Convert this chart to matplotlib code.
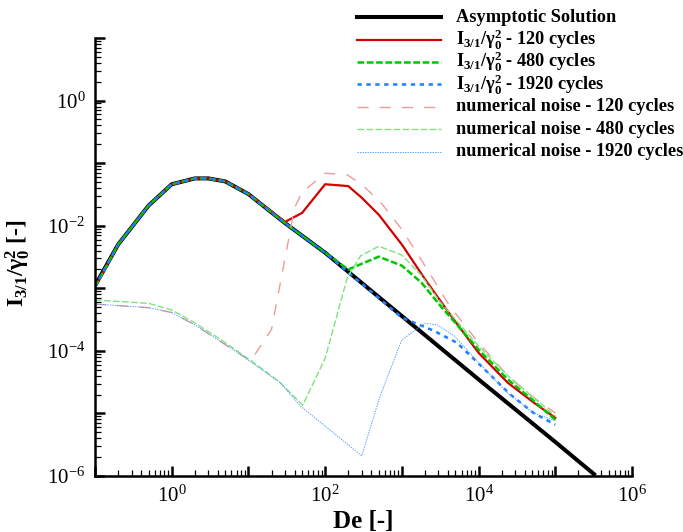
import numpy as np
import matplotlib
matplotlib.use("Agg")
import matplotlib.pyplot as plt
from matplotlib.lines import Line2D
from matplotlib.ticker import LogLocator, NullFormatter, FixedLocator

plt.rcParams['font.family'] = ['Liberation Serif', 'DejaVu Serif']
plt.rcParams['mathtext.fontset'] = 'custom'
plt.rcParams['mathtext.rm'] = 'Liberation Serif'
plt.rcParams['mathtext.it'] = 'Liberation Serif:italic'
plt.rcParams['mathtext.bf'] = 'Liberation Serif:bold'
plt.rcParams['lines.scale_dashes'] = False

# Rozwiazanie asymptotyczne
de_asym = [0.1, 0.2, 0.5, 1, 2, 3, 5, 10, 30, 100, 1e3, 1e4, 1e5, 3.2e5]
i_asym = [1.1e-3, 5e-3, 2.1e-2, 4.6e-2, 5.7e-2, 5.7e-2, 5.1e-2, 3.2e-2, 1.1e-2,
          3.7e-3, 3.6e-4, 3.5e-5, 3.5e-6, 1.07e-6]

# I_3/1 / gamma_0^2
de_120 = [0.1, 0.2, 0.5, 1, 2, 3, 5, 10, 30, 50, 100, 200, 300, 500, 1000, 2000,
          4400, 1e4, 2.4e4, 5.2e4, 1e5]
i_120 = [1.05e-3, 5e-3, 2.1e-2, 4.6e-2, 5.7e-2, 5.7e-2, 5.1e-2, 3.2e-2, 1.15e-2,
         1.6e-2, 4.6e-2, 4.3e-2, 2.8e-2, 1.5e-2, 5e-3, 1.4e-3, 3.6e-4, 9.3e-5,
         3.1e-5, 1.5e-5, 8.5e-6]

de_480 = [0.1, 0.2, 0.5, 1, 2, 3, 5, 10, 30, 100, 200, 500, 1000, 1800, 3200,
          1e4, 2.4e4, 5.2e4, 1e5]
i_480 = [1.05e-3, 5e-3, 2.1e-2, 4.6e-2, 5.7e-2, 5.7e-2, 5.1e-2, 3.2e-2, 1.1e-2,
         3.7e-3, 2e-3, 3.2e-3, 2.3e-3, 1.23e-3, 5.2e-4, 1.05e-4, 3.5e-5, 1.6e-5,
         7.9e-6]

de_1920 = [0.1, 0.2, 0.5, 1, 2, 3, 5, 10, 30, 100, 1000, 2600, 5200, 1.07e4,
           2.6e4, 5.2e4, 1e5]
i_1920 = [1.05e-3, 5e-3, 2.1e-2, 4.6e-2, 5.7e-2, 5.7e-2, 5.1e-2, 3.2e-2, 1.1e-2,
          3.7e-3, 3.4e-4, 2.1e-4, 1.35e-4, 5.8e-5, 2e-5, 1.02e-5, 6.6e-6]

# szum numeryczny
de_n120 = [0.1, 0.5, 1, 2, 4, 10.7, 20, 26, 40, 50, 100, 195, 310, 540, 1000,
           2000, 4200, 1e4, 2.4e4, 5.2e4, 1e5]
i_n120 = [5.6e-4, 4.9e-4, 4.1e-4, 2.6e-4, 1.5e-4, 6.9e-5, 2.2e-4, 1.2e-3, 1.95e-2,
          3.4e-2, 6.9e-2, 6.5e-2, 4.4e-2, 2.3e-2, 8.7e-3, 2.3e-3, 5.2e-4, 1.35e-4,
          4e-5, 1.8e-5, 1.02e-5]

de_n480 = [0.1, 0.5, 1, 2, 4.4, 11.7, 26, 51, 100, 195, 290, 500, 1000, 1800,
           3200, 1e4, 2.4e4, 5.2e4, 1e5]
i_n480 = [6.5e-4, 5.75e-4, 4.5e-4, 2.8e-4, 1.5e-4, 6.5e-5, 3.1e-5, 1.35e-5, 7.6e-5,
          1.5e-3, 3.3e-3, 4.7e-3, 3.4e-3, 1.6e-3, 5.9e-4, 1.2e-4, 4e-5, 1.8e-5,
          9.1e-6]

de_n1920 = [0.1, 0.5, 1, 2, 4, 7.3, 26, 48, 300, 520, 1000, 2000, 2900, 4800,
            1e4, 2.4e4, 5.2e4, 1e5]
i_n1920 = [5.6e-4, 4.9e-4, 4.1e-4, 2.6e-4, 1.5e-4, 9.3e-5, 3.1e-5, 1.3e-5, 2.1e-6,
           1.9e-5, 1.5e-4, 2.75e-4, 2.6e-4, 1.74e-4, 6.5e-5, 2.1e-5, 1.02e-5,
           7.6e-6]

etykieta = r'$\mathbf{I_{3/1}/\gamma_0^2}$'
serie = [
    (de_asym, i_asym, 'Asymptotic Solution', dict(color='black', lw=2.9)),
    (de_120, i_120, etykieta + ' - 120 cycles', dict(color='#d40000', lw=1.6)),
    (de_480, i_480, etykieta + ' - 480 cycles', dict(color='#00c800', lw=1.8, dashes=(4.8, 1.9))),
    (de_1920, i_1920, etykieta + ' - 1920 cycles', dict(color='#1e7cff', lw=1.8, dashes=(3.1, 3.3))),
    (de_n120, i_n120, 'numerical noise - 120 cycles', dict(color='#f09a9a', lw=1.0, dashes=(8, 8))),
    (de_n480, i_n480, 'numerical noise - 480 cycles', dict(color='#7ee27e', lw=1.0, dashes=(4.8, 1.7))),
    (de_n1920, i_n1920, 'numerical noise - 1920 cycles', dict(color='#5a9eff', lw=0.7, dashes=(1, 0.8))),
]

W, H = 683, 532
fig = plt.figure(figsize=(W / 100, H / 100), dpi=100)
ax = fig.add_axes([95 / W, 1 - 476 / H, (632 - 95) / W, (476 - 38) / H])

for de, val, label, styl in serie:
    ax.plot(de, val, **styl)

ax.set_xscale('log')
ax.set_yscale('log')
ax.set_xlim(1e-1, 1e6)
ax.set_ylim(1e-6, 1e1)

for s in ['top', 'right']:
    ax.spines[s].set_visible(False)
for s in ['left', 'bottom']:
    ax.spines[s].set_linewidth(1.8)

ax.xaxis.set_major_locator(FixedLocator([10.0**k for k in range(-1, 7)]))
ax.yaxis.set_major_locator(FixedLocator([10.0**k for k in range(-6, 2)]))
ax.xaxis.set_minor_locator(LogLocator(base=10, subs=np.arange(2, 10), numticks=20))
ax.yaxis.set_minor_locator(LogLocator(base=10, subs=np.arange(2, 10), numticks=20))
ax.xaxis.set_minor_formatter(NullFormatter())
ax.yaxis.set_minor_formatter(NullFormatter())
ax.set_xticklabels(['' if k % 2 else r'$10^{%d}$' % k for k in range(-1, 7)])
ax.set_yticklabels(['' if k % 2 else r'$10^{%d}$' % k for k in range(-6, 2)])
ax.tick_params(which='major', direction='in', length=7, width=1.8, labelsize=15, pad=7)
ax.tick_params(which='minor', direction='in', length=4, width=0.9)

ax.set_xlabel('De [-]', fontsize=18, fontweight='bold', labelpad=2)
ax.set_ylabel(r'$\mathbf{I_{3/1}/\gamma_0^2}$ [-]', fontsize=17, fontweight='bold')
ax.yaxis.set_label_coords(-0.118, (476 - 263) / 438)

# legenda ustawiona recznie, rowne odstepy wierszy
for i, (de, val, label, styl) in enumerate(serie):
    y = 1 - (17.3 + 22.4 * i) / H
    fig.add_artist(Line2D([357 / W, 441 / W], [y, y], transform=fig.transFigure, **styl))
    fig.text(456 / W, y, label, fontsize=13.2, fontweight='bold', va='center', ha='left')

fig.savefig('out.png', dpi=100)
